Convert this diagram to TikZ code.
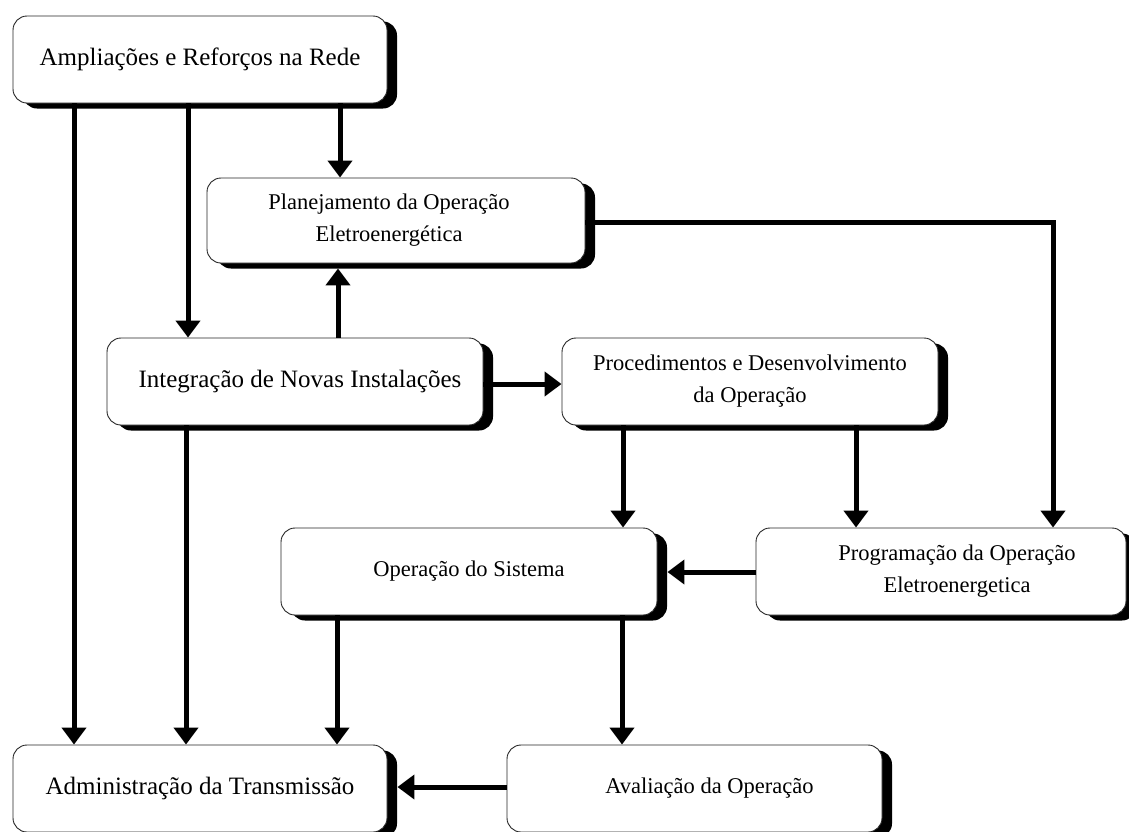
\documentclass[tikz,border=0pt]{standalone}
\usepackage{fontspec}
\setmainfont{Liberation Serif}
\usetikzlibrary{arrows.meta,shadows,calc}

\begin{document}
\begin{tikzpicture}[x=1pt,y=-1pt,
  flowbox/.style={draw=black!85, line width=0.9pt, fill=white, rounded corners=14pt,
    minimum height=87pt, inner sep=0pt, align=center,
    drop shadow={opacity=1, fill=black, shadow xshift=10pt, shadow yshift=-5.5pt}},
  bigtext/.style={font=\fontsize{25}{30}\selectfont},
  smalltext/.style={font=\fontsize{22.5}{32}\selectfont},
  flow/.style={line width=5pt, -{Triangle[width=24pt,length=17pt]}, line join=miter}
]
\useasboundingbox (0,0) rectangle (1129,831);
\clip (0,0) rectangle (1129,831);
\fill[white] (0,0) rectangle (1129,831);

% boxes
\node[flowbox, bigtext, minimum width=374pt] (A) at (200,59.5) {Ampliações e Reforços na Rede};
\node[flowbox, smalltext, minimum width=378pt, minimum height=85pt] (P) at (396,220.5) {\hspace*{-14pt}Planejamento da Operação\\\hspace*{-14pt}Eletroenergética};
\node[flowbox, bigtext, minimum width=376pt] (I) at (295,381.5) {\hspace*{10pt}Integração de Novas Instalações};
\node[flowbox, smalltext, minimum width=376pt] (D) at (750,381.5) {Procedimentos e Desenvolvimento\\da Operação};
\node[flowbox, smalltext, minimum width=376pt] (O) at (469,571.5) {Operação do Sistema};
\node[flowbox, smalltext, minimum width=370pt] (G) at (941,571.5) {\hspace*{32pt}Programação da Operação\\\hspace*{32pt}Eletroenergetica};
\node[flowbox, bigtext, minimum width=374pt] (T) at (200,788.5) {Administração da Transmissão};
\node[flowbox, smalltext, minimum width=375pt] (V) at (694.5,788.5) {\hspace*{30pt}Avaliação da Operação};

% connectors
\draw[flow] (A.south -| 74,0) -- (T.north -| 74,0);
\draw[flow] (A.south -| 188,0) -- (I.north -| 188,0);
\draw[flow] (A.south -| 340,0) -- (P.north -| 340,0);
\draw[flow] (I.north -| 338,0) -- ([yshift=-5pt]P.south -| 338,0);
\draw[flow] (I.south -| 186,0) -- (T.north -| 186,0);
\draw[flow] (I.east |- 0,384) -- (D.west |- 0,384);
\draw[flow] (P.east |- 0,222) -- (1053,222) -- (G.north -| 1053,0);
\draw[flow] (D.south -| 623,0) -- (O.north -| 623,0);
\draw[flow] (D.south -| 856,0) -- (G.north -| 856,0);
\draw[flow] (G.west |- 0,572) -- ([xshift=10pt]O.east |- 0,572);
\draw[flow] (O.south -| 337,0) -- (T.north -| 337,0);
\draw[flow] (O.south -| 622,0) -- (V.north -| 622,0);
\draw[flow] (V.west |- 0,787) -- ([xshift=10pt]T.east |- 0,787);
\end{tikzpicture}
\end{document}
